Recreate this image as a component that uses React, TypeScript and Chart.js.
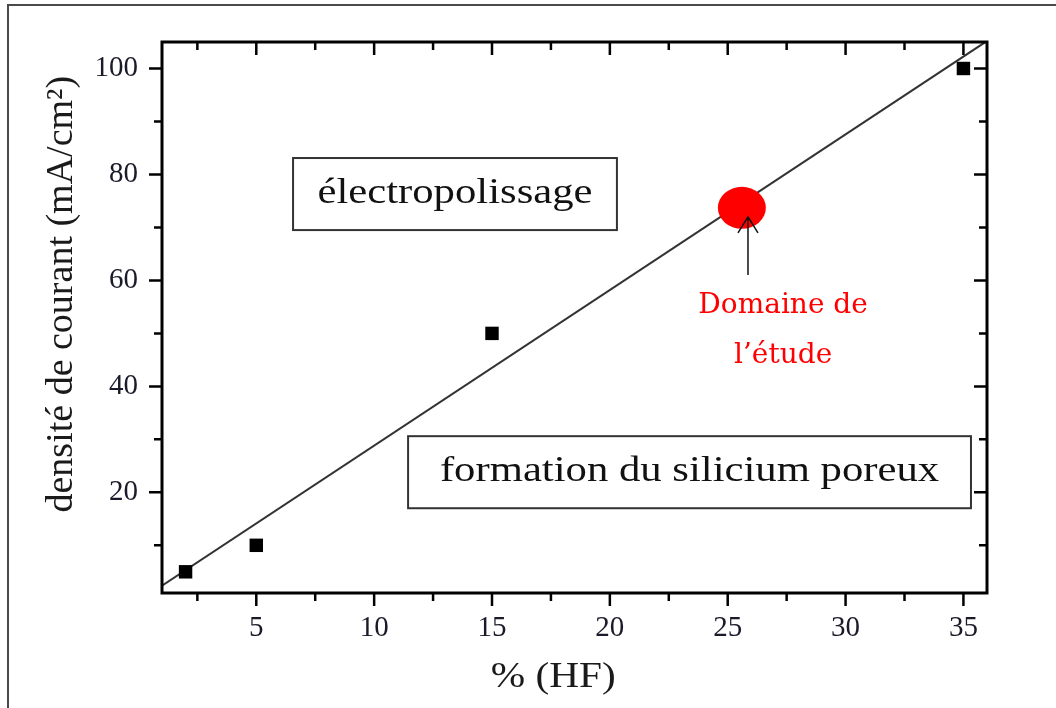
import React, { useEffect, useRef } from "react";
import { Chart, registerables } from "chart.js";

Chart.register(...registerables);

// ---- data ----
const hfPercent = [2, 5, 15, 35];
const currentDensity = [5, 10, 50, 100];
const fitX = [1, 36];
const fitY = [2.4, 105.2];

const xMajorTicks = [5, 10, 15, 20, 25, 30, 35];
const xMinorTicks = [2.5, 7.5, 12.5, 17.5, 22.5, 27.5, 32.5];
const yMajorTicks = [20, 40, 60, 80, 100];
const yMinorTicks = [10, 30, 50, 70, 90];

const xTitle = "% (HF)";
const yTitle = "densité de courant (mA/cm²)";
const regionLabels = ["électropolissage", "formation du silicium poreux"];
const studyLabel = ["Domaine de", "l’étude"];
const studyPoint = [25.6, 73.7];

// ---- layout (data-unit anchors) ----
const LAYOUT = {
  xMin: 1,
  xMax: 36,
  yMin: 1,
  yMax: 105,
  boxes: [
    { x0: 6.56, x1: 20.3, y0: 69.5, y1: 83.1 },
    { x0: 11.44, x1: 35.32, y0: 17.0, y1: 30.6 },
  ],
  arrow: { x: 25.86, yFrom: 61.0, yTo: 72.0 },
  studyText: { x: 27.35, y: [53.85, 44.4] },
  xTitlePos: { x: 17.6, py: 678 },
  yTitlePos: { px: 62, y: 57.4 },
};

const SERIF = "'Liberation Serif', 'Times New Roman', serif";

function stretched(ctx: CanvasRenderingContext2D, text: string, cx: number, cy: number, sx: number) {
  ctx.save();
  ctx.translate(cx, cy);
  ctx.scale(sx, 1);
  ctx.fillText(text, 0, 0);
  ctx.restore();
}

const decorPlugin = {
  id: "decor",
  afterDatasetsDraw(chart: any) {
    const { ctx, chartArea: a } = chart;
    const xs = chart.scales.x;
    const ys = chart.scales.y;
    const px = (v: number) => xs.getPixelForValue(v);
    const py = (v: number) => ys.getPixelForValue(v);
    ctx.save();

    // outer frame (cut off at right/bottom)
    ctx.strokeStyle = "#4a4a4a";
    ctx.lineWidth = 2;
    ctx.strokeRect(8, 5, 1300, 900);

    // red study ellipse
    ctx.fillStyle = "#ff0000";
    ctx.beginPath();
    ctx.ellipse(px(studyPoint[0]), py(studyPoint[1]), 24, 21, 0, 0, Math.PI * 2);
    ctx.fill();

    // arrow
    const ax = px(LAYOUT.arrow.x);
    const ay0 = py(LAYOUT.arrow.yFrom);
    const ay1 = py(LAYOUT.arrow.yTo);
    ctx.strokeStyle = "#111";
    ctx.lineWidth = 1.5;
    ctx.beginPath();
    ctx.moveTo(ax, ay0);
    ctx.lineTo(ax, ay1);
    ctx.moveTo(ax - 10, ay1 + 16);
    ctx.lineTo(ax, ay1);
    ctx.lineTo(ax + 10, ay1 + 16);
    ctx.stroke();

    // red text
    ctx.fillStyle = "#ff0000";
    ctx.font = "28px 'DejaVu Serif', serif";
    ctx.textAlign = "center";
    ctx.textBaseline = "alphabetic";
    studyLabel.forEach((t, i) => {
      ctx.fillText(t, px(LAYOUT.studyText.x), py(LAYOUT.studyText.y[i]));
    });

    // region boxes
    LAYOUT.boxes.forEach((b, i) => {
      const x0 = px(b.x0), x1 = px(b.x1), y0 = py(b.y1), y1 = py(b.y0);
      ctx.fillStyle = "#ffffff";
      ctx.fillRect(x0, y0, x1 - x0, y1 - y0);
      ctx.strokeStyle = "#333";
      ctx.lineWidth = 2;
      ctx.strokeRect(x0, y0, x1 - x0, y1 - y0);
      ctx.fillStyle = "#111";
      ctx.font = `35px ${SERIF}`;
      ctx.textAlign = "center";
      ctx.textBaseline = "middle";
      stretched(ctx, regionLabels[i], (x0 + x1) / 2, (y0 + y1) / 2, 1.22);
    });

    // plot frame
    ctx.strokeStyle = "#000";
    ctx.lineWidth = 3;
    ctx.strokeRect(a.left, a.top, a.right - a.left, a.bottom - a.top);

    // tick marks
    ctx.lineWidth = 2.5;
    const major = 13, minor = 8;
    const tickX = (v: number, len: number) => {
      const x = px(v);
      ctx.beginPath();
      ctx.moveTo(x, a.bottom);
      ctx.lineTo(x, a.bottom + len);
      ctx.moveTo(x, a.top);
      ctx.lineTo(x, a.top + len);
      ctx.stroke();
    };
    const tickY = (v: number, len: number) => {
      const y = py(v);
      ctx.beginPath();
      ctx.moveTo(a.left, y);
      ctx.lineTo(a.left - len, y);
      ctx.moveTo(a.right, y);
      ctx.lineTo(a.right - len, y);
      ctx.stroke();
    };
    xMajorTicks.forEach((v) => tickX(v, major));
    xMinorTicks.forEach((v) => tickX(v, minor));
    yMajorTicks.forEach((v) => tickY(v, major));
    yMinorTicks.forEach((v) => tickY(v, minor));

    // axis titles
    ctx.fillStyle = "#1a1a1a";
    ctx.textAlign = "center";
    ctx.textBaseline = "middle";
    ctx.font = `35px ${SERIF}`;
    stretched(ctx, xTitle, px(LAYOUT.xTitlePos.x), LAYOUT.xTitlePos.py, 1.18);

    ctx.save();
    ctx.translate(LAYOUT.yTitlePos.px, py(LAYOUT.yTitlePos.y));
    ctx.rotate(-Math.PI / 2);
    ctx.font = `38px ${SERIF}`;
    ctx.fillText(yTitle, 0, 0);
    ctx.restore();

    ctx.restore();
  },
};

export default function App() {
  const ref = useRef<HTMLCanvasElement | null>(null);

  useEffect(() => {
    document.body.style.margin = "0";
    const canvas = ref.current;
    if (!canvas) return;
    const chart = new Chart(canvas, {
      type: "scatter",
      data: {
        datasets: [
          {
            label: "mesures",
            data: hfPercent.map((x, i) => ({ x, y: currentDensity[i] })),
            pointStyle: "rect",
            pointRadius: 9.5,
            pointHoverRadius: 9.5,
            backgroundColor: "#000",
            borderColor: "#000",
            borderWidth: 0,
            showLine: false,
          },
          {
            label: "ajustement",
            data: fitX.map((x, i) => ({ x, y: fitY[i] })),
            showLine: true,
            pointRadius: 0,
            borderColor: "#333",
            borderWidth: 2,
            fill: false,
          },
        ],
      },
      options: {
        animation: false,
        responsive: false,
        devicePixelRatio: 1,
        layout: { padding: { left: 0, top: 42, right: 69, bottom: 0 } },
        plugins: {
          legend: { display: false },
          tooltip: { enabled: false },
        },
        scales: {
          x: {
            type: "linear",
            min: LAYOUT.xMin,
            max: LAYOUT.xMax,
            afterBuildTicks: (s: any) => {
              s.ticks = xMajorTicks.map((v) => ({ value: v }));
            },
            afterFit: (s: any) => {
              s.height = 115;
            },
            grid: { display: false, drawTicks: false },
            border: { display: false },
            ticks: {
              autoSkip: false,
              maxRotation: 0,
              padding: 18,
              color: "#1a1a2a",
              font: { family: SERIF, size: 29 },
            },
            title: { display: false },
          },
          y: {
            type: "linear",
            min: LAYOUT.yMin,
            max: LAYOUT.yMax,
            afterBuildTicks: (s: any) => {
              s.ticks = yMajorTicks.map((v) => ({ value: v }));
            },
            afterFit: (s: any) => {
              s.width = 162;
            },
            grid: { display: false, drawTicks: false },
            border: { display: false },
            ticks: {
              autoSkip: false,
              padding: 24,
              color: "#1a1a2a",
              font: { family: SERIF, size: 29 },
            },
            title: { display: false },
          },
        },
      },
      plugins: [decorPlugin],
    });
    return () => chart.destroy();
  }, []);

  return (
    <div style={{ width: 1056, height: 708, background: "#fff" }}>
      <canvas ref={ref} width={1056} height={708} style={{ display: "block" }} />
    </div>
  );
}
